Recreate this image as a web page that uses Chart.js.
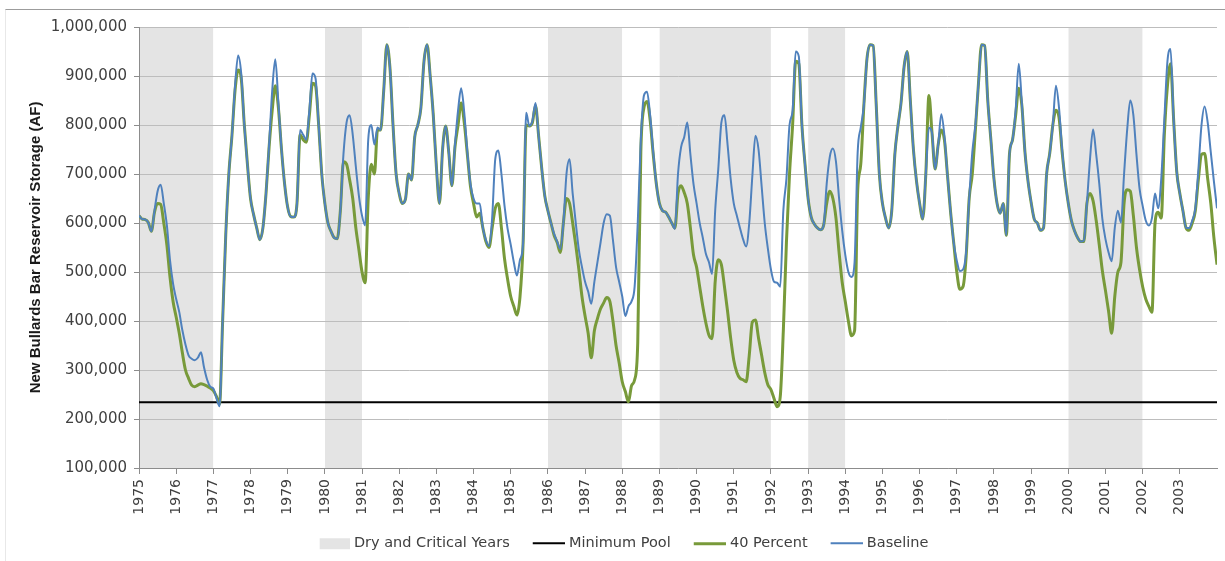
<!DOCTYPE html>
<html>
<head>
<meta charset="utf-8">
<title>New Bullards Bar Reservoir Storage</title>
<script src="https://cdn.jsdelivr.net/npm/chart.js@4.4.1/dist/chart.umd.min.js"></script>
<style>
  html, body { margin: 0; padding: 0; background: #ffffff; }
  #wrap { position: relative; width: 1225px; height: 561px; overflow: hidden; }
  #frame { position: absolute; left: 5px; top: 9px; right: 0; bottom: 0;
           border-top: 1px solid #9c9c9c; border-left: 1px solid #e8e8e8; pointer-events: none; }
  #chart { position: absolute; left: 0; top: 0; }
</style>
</head>
<body>
<div id="wrap">
  <canvas id="chart" width="1225" height="561"></canvas>
  <div id="frame"></div>
</div>
<script>
// Monthly reservoir storage, thousand acre-feet, Jan 1975 through Dec 2003 (+ closing value).
const startYear = 1975;
const endYear = 2004;

const baselineKaf = [
  615, 608, 607, 601, 583, 625, 665, 678, 640, 595, 525, 476,   // 1975
  445, 418, 381, 352, 330, 323, 320, 325, 336, 305, 280, 266,   // 1976
  262, 243, 226, 400, 575, 700, 778, 879, 942, 905, 800, 720,   // 1977
  650, 617, 590, 566, 590, 660, 760, 870, 934, 845, 750, 680,   // 1978
  632, 613, 612, 640, 790, 780, 770, 830, 905, 895, 800, 700,   // 1979
  640, 600, 583, 570, 568, 625, 740, 805, 820, 780, 715, 655,   // 1980
  615, 595, 770, 800, 760, 795, 790, 870, 964, 918, 800, 700,   // 1981
  660, 640, 648, 700, 688, 775, 800, 835, 930, 964, 900, 820,   // 1982
  715, 640, 750, 798, 744, 676, 760, 830, 875, 825, 745, 680,   // 1983
  650, 640, 640, 590, 565, 553, 610, 730, 748, 700, 635, 588,   // 1984
  556, 520, 493, 525, 560, 825, 798, 808, 845, 778, 712, 655,   // 1985
  625, 600, 578, 562, 547, 600, 700, 730, 660, 600, 545, 510,   // 1986
  480, 460, 435, 480, 520, 560, 600, 618, 615, 565, 510, 480,   // 1987
  450, 410, 430, 440, 470, 600, 770, 860, 868, 820, 745, 680,   // 1988
  640, 625, 622, 612, 600, 588, 700, 755, 775, 805, 740, 680,   // 1989
  640, 600, 570, 537, 520, 496, 625, 710, 805, 820, 760, 690,   // 1990
  640, 615, 590, 567, 552, 600, 696, 778, 750, 675, 600, 548,   // 1991
  505, 480, 478, 470, 625, 690, 800, 830, 950, 940, 800, 720,   // 1992
  650, 612, 598, 590, 586, 595, 680, 735, 752, 725, 650, 585,   // 1993
  535, 500, 490, 520, 744, 795, 840, 935, 964, 962, 840, 700,   // 1994
  640, 610, 590, 625, 740, 798, 845, 920, 950, 850, 750, 685,   // 1995
  640, 608, 700, 795, 784, 710, 760, 822, 778, 697, 622, 560,   // 1996
  523, 502, 505, 540, 650, 744, 800, 885, 964, 962, 850, 770,   // 1997
  690, 640, 620, 640, 575, 740, 770, 830, 925, 845, 745, 685,   // 1998
  642, 608, 600, 585, 590, 700, 742, 800, 880, 835, 750, 685,   // 1999
  640, 605, 584, 570, 562, 564, 640, 730, 791, 740, 680, 608,   // 2000
  567, 540, 522, 590, 625, 601, 700, 790, 850, 820, 740, 670,   // 2001
  635, 605, 595, 610, 660, 630, 690, 811, 930, 955, 811, 705,   // 2002
  660, 625, 590, 590, 605, 630, 710, 800, 838, 805, 744, 685,   // 2003
  630
];

const fortyPercentKaf = [
  615, 608, 607, 601, 583, 622, 640, 638, 600, 555, 490, 440,   // 1975
  408, 375, 335, 300, 283, 269, 266, 269, 272, 270, 267, 263,   // 1976
  258, 246, 230, 400, 575, 700, 778, 870, 912, 895, 800, 720,   // 1977
  650, 617, 590, 566, 590, 660, 755, 830, 880, 835, 750, 680,   // 1978
  632, 613, 612, 640, 780, 770, 765, 820, 885, 880, 800, 700,   // 1979
  640, 600, 583, 570, 568, 625, 725, 720, 688, 650, 590, 545,   // 1980
  500, 478, 650, 720, 700, 790, 790, 870, 964, 918, 800, 700,   // 1981
  660, 640, 648, 700, 688, 775, 800, 835, 930, 964, 900, 820,   // 1982
  715, 640, 750, 798, 744, 676, 755, 800, 845, 805, 740, 675,   // 1983
  640, 612, 620, 590, 562, 550, 590, 630, 640, 590, 527, 485,   // 1984
  450, 430, 412, 450, 560, 800, 798, 805, 840, 778, 712, 655,   // 1985
  625, 600, 575, 560, 540, 600, 650, 640, 600, 555, 505, 450,   // 1986
  410, 375, 325, 380, 405, 425, 437, 448, 440, 400, 350, 315,   // 1987
  276, 256, 235, 268, 280, 355, 745, 835, 848, 810, 740, 680,   // 1988
  640, 625, 622, 612, 600, 590, 660, 676, 662, 640, 590, 535,   // 1989
  510, 470, 430, 396, 371, 364, 480, 525, 515, 470, 420, 365,   // 1990
  320, 295, 283, 280, 276, 330, 398, 402, 365, 330, 295, 270,   // 1991
  260, 242, 225, 245, 380, 560, 700, 800, 930, 925, 800, 720,   // 1992
  650, 612, 598, 590, 586, 595, 640, 665, 650, 610, 540, 479,   // 1993
  440, 400, 370, 380, 665, 720, 840, 935, 964, 962, 840, 700,   // 1994
  640, 610, 590, 625, 740, 798, 845, 920, 950, 850, 750, 685,   // 1995
  640, 608, 700, 860, 784, 710, 760, 790, 770, 697, 622, 560,   // 1996
  500, 465, 470, 530, 650, 700, 790, 885, 964, 962, 850, 770,   // 1997
  690, 640, 620, 640, 575, 740, 770, 820, 875, 840, 745, 685,   // 1998
  642, 608, 600, 585, 590, 700, 742, 800, 830, 815, 745, 685,   // 1999
  640, 605, 584, 570, 562, 562, 640, 660, 645, 605, 555, 502,   // 2000
  462, 420, 375, 450, 500, 520, 640, 668, 665, 615, 550, 505,   // 2001
  470, 445, 430, 418, 600, 622, 610, 780, 880, 925, 811, 705,   // 2002
  660, 625, 590, 585, 600, 625, 690, 740, 742, 690, 640, 570,   // 2003
  515
];

// Minimum pool, acre-feet
const minimumPoolAf = 234000;

// Dry and critical water years (shaded spans)
const dryStart = [1975, 1980, 1986, 1989, 1993, 2000];
const dryEnd   = [1977, 1981, 1988, 1992, 1994, 2002];

// Axis labels
const yearLabels = [];
for (let y = startYear; y < endYear; y++) yearLabels.push(String(y));

const seriesLabels = ['Dry and Critical Years', 'Minimum Pool', '40 Percent', 'Baseline'];
const seriesColors = ['#e4e4e4', '#000000', '#789a3a', '#4f81bd'];

// ---- build chart data ----
const toPoints = arr => arr.map((v, i) => ({ x: startYear + i / 12, y: v * 1000 }));

const dryPoints = [];
dryStart.forEach((s, k) => {
  dryPoints.push({ x: s, y: 1000000 }, { x: dryEnd[k], y: 1000000 }, { x: dryEnd[k], y: null });
});

// Legend swatches: a grey block or a short line, drawn at the right end of a small canvas
function swatch(kind, color, thick) {
  const c = document.createElement('canvas');
  c.width = 48; c.height = 16;
  const g = c.getContext('2d');
  g.fillStyle = color;
  if (kind === 'box') g.fillRect(18, 3, 30, 11);
  else g.fillRect(16, 8 - Math.floor(thick / 2), 32, thick);
  return c;
}
const swatches = [
  swatch('box', seriesColors[0]),
  swatch('line', seriesColors[1], 2),
  swatch('line', seriesColors[2], 3),
  swatch('line', seriesColors[3], 2)
];

const TICK_FONT = "'DejaVu Sans', sans-serif";
const AXIS_GREY = '#8c8c8c';
const PAD_LEFT = 16;

new Chart(document.getElementById('chart'), {
  type: 'line',
  data: {
    datasets: [
      {
        label: seriesLabels[0], data: dryPoints, order: 3,
        borderWidth: 0, borderColor: 'rgba(0,0,0,0)', backgroundColor: seriesColors[0],
        fill: 'start', pointRadius: 0, spanGaps: false
      },
      {
        label: seriesLabels[1], order: 2,
        data: [{ x: startYear, y: minimumPoolAf }, { x: endYear, y: minimumPoolAf }],
        borderColor: seriesColors[1], borderWidth: 2, pointRadius: 0, fill: false
      },
      {
        label: seriesLabels[2], data: toPoints(fortyPercentKaf), order: 1,
        borderColor: seriesColors[2], borderWidth: 3, pointRadius: 0, fill: false,
        cubicInterpolationMode: 'monotone'
      },
      {
        label: seriesLabels[3], data: toPoints(baselineKaf), order: 0,
        borderColor: seriesColors[3], borderWidth: 2, pointRadius: 0, fill: false,
        cubicInterpolationMode: 'monotone'
      }
    ]
  },
  options: {
    responsive: false,
    animation: false,
    devicePixelRatio: 1,
    layout: { padding: { left: PAD_LEFT, right: 8, top: 27, bottom: 0.5 } },
    plugins: {
      filler: { drawTime: 'beforeDraw' },
      tooltip: { enabled: false },
      legend: {
        position: 'bottom',
        labels: {
          usePointStyle: true,
          pointStyleWidth: 42,
          padding: 10,
          color: '#404040',
          font: { family: TICK_FONT, size: 14.5 },
          sort: (a, b) => a.datasetIndex - b.datasetIndex,
          generateLabels(chart) {
            const items = Chart.defaults.plugins.legend.labels.generateLabels(chart);
            items.forEach(it => {
              it.pointStyle = swatches[it.datasetIndex];
              it.lineWidth = 0;
              it.rotation = 0;
            });
            return items;
          }
        }
      }
    },
    scales: {
      x: {
        type: 'linear',
        min: startYear,
        max: endYear,
        afterFit(scale) {
          scale.height = 58;
          scale.paddingLeft = 0;
          scale.paddingRight = 0;
        },
        border: { display: true, color: AXIS_GREY, width: 1 },
        grid: {
          drawOnChartArea: false,
          drawTicks: true,
          tickLength: 6,
          tickColor: ctx => (ctx.tick && ctx.tick.value >= endYear) ? 'rgba(0,0,0,0)' : AXIS_GREY
        },
        ticks: {
          stepSize: 1,
          autoSkip: false,
          maxRotation: 90,
          minRotation: 90,
          padding: 5,
          color: '#404040',
          font: { family: TICK_FONT, size: 14 },
          callback: v => (v < endYear ? yearLabels[v - startYear] : '')
        }
      },
      y: {
        min: 100000,
        max: 1000000,
        afterFit(scale) { scale.width = 139 - PAD_LEFT; },
        border: { display: true, color: AXIS_GREY, width: 1 },
        grid: { color: '#bdbdbd', tickColor: AXIS_GREY, tickLength: 5 },
        ticks: {
          stepSize: 100000,
          padding: 7,
          color: '#404040',
          font: { family: TICK_FONT, size: 15 },
          callback: v => v.toLocaleString('en-US')
        },
        title: {
          display: true,
          text: 'New Bullards Bar Reservoir Storage (AF)',
          color: '#1a1a1a',
          font: { family: "'Liberation Sans', Arial, sans-serif", size: 15, weight: 'bold' },
          padding: { top: 36 - PAD_LEFT - 9, bottom: 0 }
        }
      }
    }
  }
});
</script>
</body>
</html>
